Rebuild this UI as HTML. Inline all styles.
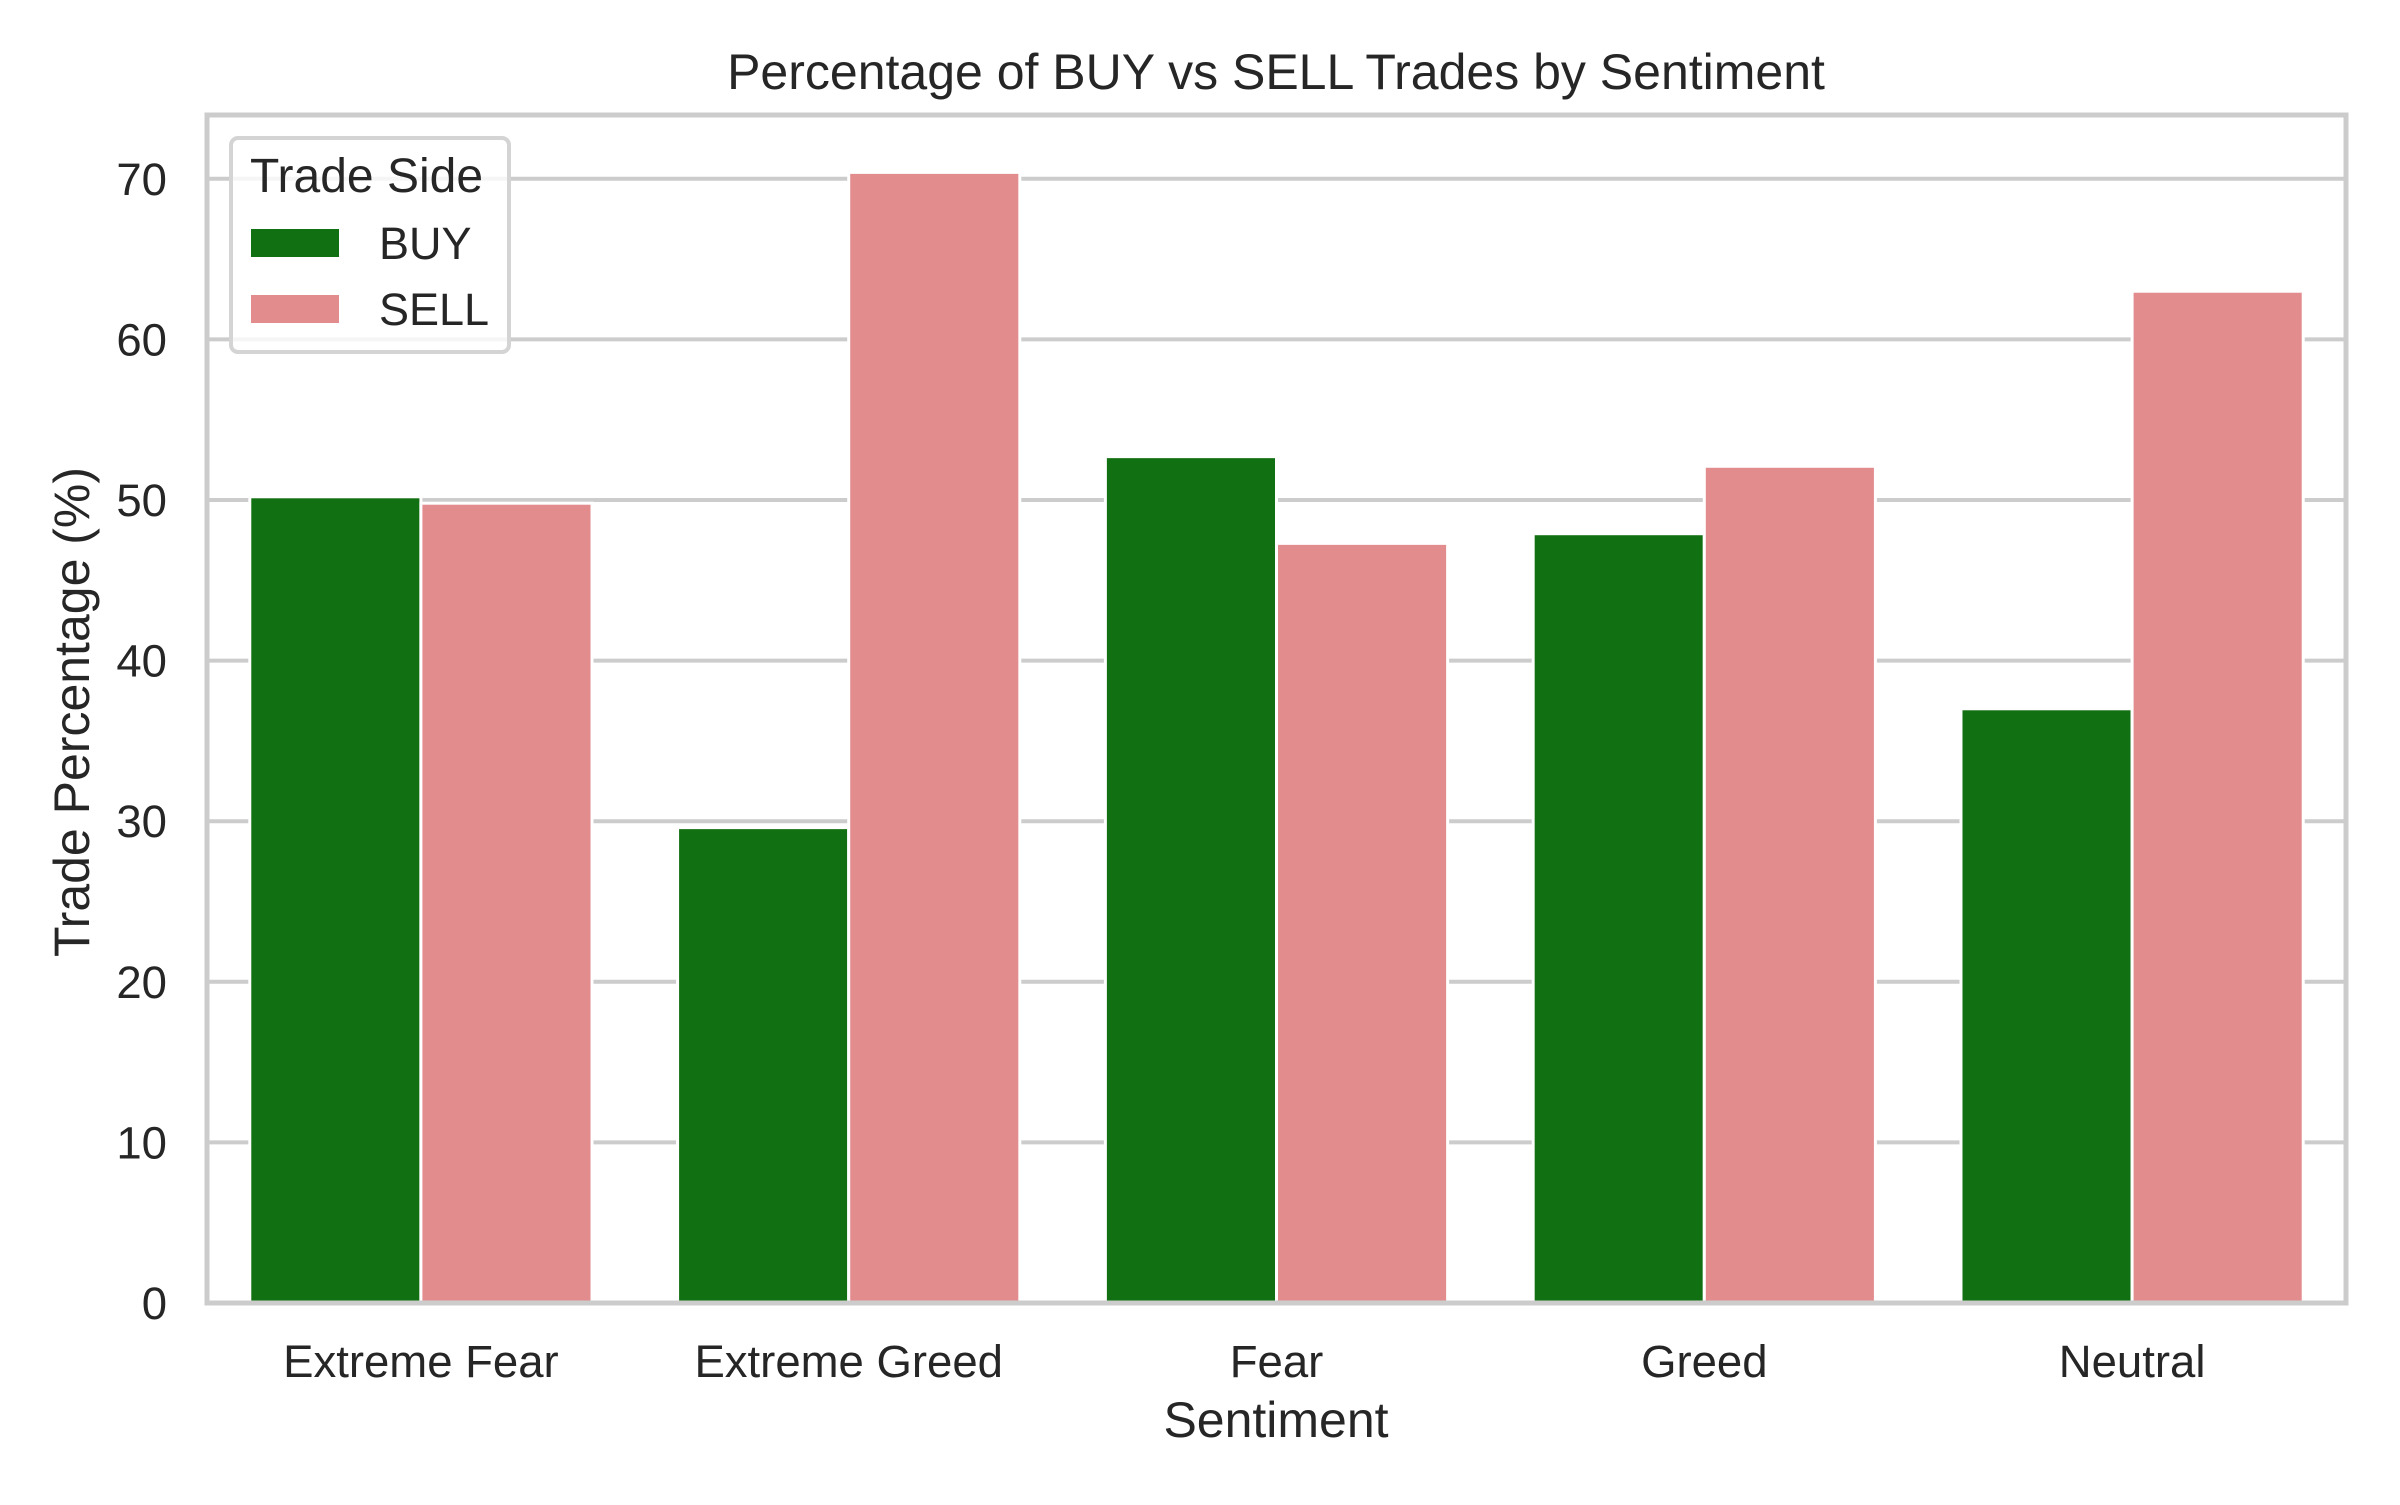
<!DOCTYPE html>
<html><head><meta charset="utf-8"><style>
body{margin:0;background:#fff;}
svg text{font-family:"Liberation Sans",Arial,sans-serif;fill:#262626;}
</style></head><body>
<svg id="chart" width="2400" height="1500" viewBox="0 0 2400 1500" xmlns="http://www.w3.org/2000/svg">
<rect width="2400" height="1500" fill="#fff"/>
<g id="grid"></g>
<g id="bars"></g>
<rect x="207" y="115" width="2139" height="1188" fill="none" stroke="#cccccc" stroke-width="5"/>
<g id="yticks"></g>
<g id="xticks"></g>
<text x="1276" y="89" font-size="50" text-anchor="middle">Percentage of BUY vs SELL Trades by Sentiment</text>
<text x="1276" y="1437" font-size="50" text-anchor="middle">Sentiment</text>
<text transform="translate(89,712) rotate(-90)" font-size="50" text-anchor="middle">Trade Percentage (%)</text>
<g>
<rect x="231" y="138" width="278" height="214" rx="7" fill="#fff" fill-opacity="0.8" stroke="#d4d4d4" stroke-width="4"/>
<text x="250" y="192" font-size="48">Trade Side</text>
<rect x="251" y="229" width="88" height="28" fill="#117011"/>
<text x="379" y="259" font-size="45">BUY</text>
<rect x="251" y="295" width="88" height="28" fill="#e28c8e"/>
<text x="379" y="325" font-size="45">SELL</text>
</g>
</svg>
<script>
const categories = ["Extreme Fear","Extreme Greed","Fear","Greed","Neutral"];
const buyValues = [50.2, 29.6, 52.7, 47.9, 37.0];
const sellValues = [49.8, 70.4, 47.3, 52.1, 63.0];
const yTicks = [0,10,20,30,40,50,60,70];
const NS="http://www.w3.org/2000/svg";
const L=207,R=2346,B=1303,T=115,YMAX=(B-T)/16.06;
const y=v=>B-(v/YMAX)*(B-T);
const bw=(R-L)/categories.length;
const xc=i=>L+bw*(i+0.5);
function mk(tag,attrs,parent){const e=document.createElementNS(NS,tag);for(const k in attrs)e.setAttribute(k,attrs[k]);parent.appendChild(e);return e;}
const grid=document.getElementById('grid'),bars=document.getElementById('bars'),yt=document.getElementById('yticks'),xt=document.getElementById('xticks');
yTicks.forEach(t=>{
  const l=mk('line',{x1:L,x2:R,y1:y(t),y2:y(t),stroke:'#cccccc','stroke-width':4},grid);
  
  
  const tx=mk('text',{x:167,y:y(t)+16,'font-size':45.5,'text-anchor':'end'},yt);
  tx.textContent=t;
  
  
});
categories.forEach((c,i)=>{
  const w=bw*0.4;
  const b1=mk('rect',{x:xc(i)-w,y:y(buyValues[i]),width:w,height:B-y(buyValues[i]),fill:'#117011',stroke:'#fff','stroke-width':3},bars);
  
  
  const b2=mk('rect',{x:xc(i),y:y(sellValues[i]),width:w,height:B-y(sellValues[i]),fill:'#e28c8e',stroke:'#fff','stroke-width':3},bars);
  
  
  const tx=mk('text',{x:xc(i),y:1377,'font-size':45.5,'text-anchor':'middle'},xt);
  tx.textContent=c;
  
  
});
</script>
</body></html>
